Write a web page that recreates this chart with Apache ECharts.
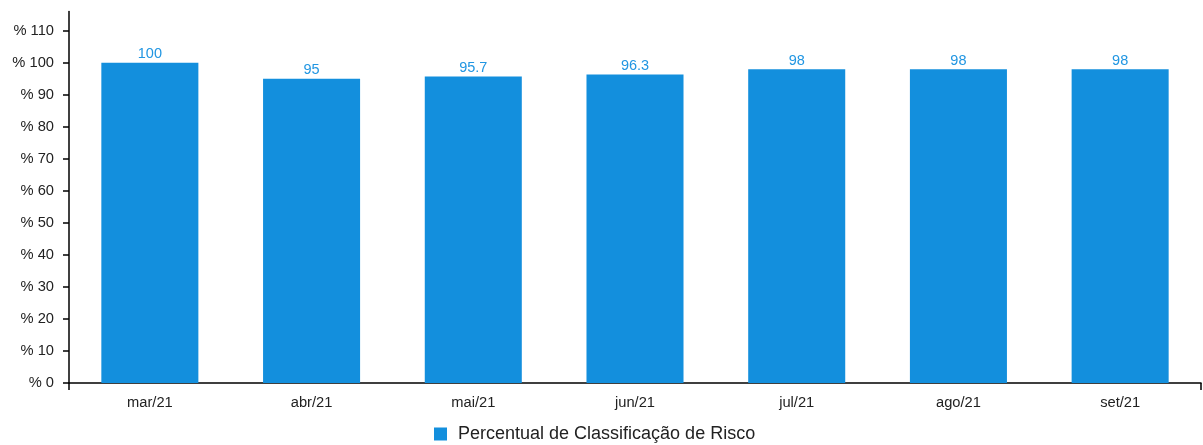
<!DOCTYPE html>
<html><head><meta charset="utf-8">
<script src="https://cdn.jsdelivr.net/npm/echarts@6/dist/echarts.min.js"></script>
<style>html,body{margin:0;padding:0;background:#fff}#c{width:1203px;height:445px}</style>
</head><body><div id="c"></div>
<script>
const categories = ['mar/21','abr/21','mai/21','jun/21','jul/21','ago/21','set/21'];
const values = [100, 95, 95.7, 96.3, 98, 98, 98];
const seriesName = 'Percentual de Classificação de Risco';
const yMax = 116;
const yInterval = 10;

const font = 'Liberation Sans, Arial, sans-serif';
const barColor = '#138fdd';
const chart = echarts.init(document.getElementById('c'), null, {renderer:'canvas'});
chart.setOption({
  animation: false,
  grid: [{left: 69, right: 2, top: 11.5, bottom: 62}],
  legend: {
    data: [seriesName], left: 429, top: 420, itemWidth: 13, itemHeight: 13, itemGap: 11,
    icon: 'rect',
    textStyle: {fontFamily: font, fontSize: 18, color: '#222', padding: [0, 0, 0, 6]}
  },
  xAxis: [{
    type: 'category', data: categories, boundaryGap: true,
    axisLine: {lineStyle: {color: '#000', width: 1.5}},
    axisTick: {alignWithLabel: true, length: 7, lineStyle: {color: '#000', width: 1.5}},
    axisLabel: {fontFamily: font, fontSize: 14.7, color: '#222', margin: 12}
  }, {
    type: 'value', min: 0, max: 1, interval: 1, position: 'bottom',
    axisLine: {show: false}, splitLine: {show: false},
    axisTick: {show: true, length: 7, lineStyle: {color: '#000', width: 1.5}},
    axisLabel: {show: false}
  }],
  yAxis: {
    type: 'value', min: 0, max: yMax, interval: yInterval,
    axisLine: {show: true, lineStyle: {color: '#000', width: 1.5}},
    axisTick: {show: true, length: 6, lineStyle: {color: '#000', width: 1.5}},
    splitLine: {show: false},
    axisLabel: {fontFamily: font, fontSize: 14.7, color: '#222', margin: 15,
      showMaxLabel: false, formatter: '% {value}'}
  },
  series: [{
    name: seriesName, type: 'bar', data: values, xAxisIndex: 0,
    barCategoryGap: '40%',
    itemStyle: {color: barColor},
    label: {show: true, position: 'top', distance: 1, fontFamily: font, fontSize: 14.5, color: '#2196e2'}
  }]
});
</script></body></html>
